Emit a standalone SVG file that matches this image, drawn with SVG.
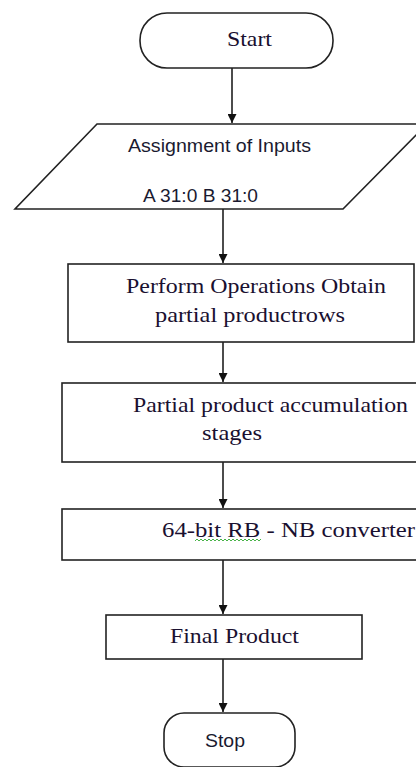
<svg xmlns="http://www.w3.org/2000/svg" width="416" height="767" viewBox="0 0 416 767">
<style>
.shape{fill:#fff;stroke:#222;stroke-width:1.6}
.conn{stroke:#111;stroke-width:1.5;fill:none}
.serif{font-family:"Liberation Serif","Times New Roman",serif;font-size:22px;fill:#1a1030}
.sans{font-family:"Liberation Sans",Arial,sans-serif;font-size:19px;fill:#1a1a30}
</style>
<defs>
<marker id="arr" viewBox="0 0 10 10" refX="10" refY="5" markerWidth="9" markerHeight="9" markerUnits="userSpaceOnUse" orient="auto">
<path d="M0,0 L10,5 L0,10 z" fill="#111"/>
</marker>
</defs>
<rect width="416" height="767" fill="#fff"/>
<g id="connectors">
<line class="conn" x1="232" y1="68" x2="232" y2="123" marker-end="url(#arr)"/>
<line class="conn" x1="223" y1="209" x2="223" y2="263" marker-end="url(#arr)"/>
<line class="conn" x1="223" y1="342" x2="223" y2="382" marker-end="url(#arr)"/>
<line class="conn" x1="223" y1="462" x2="223" y2="508" marker-end="url(#arr)"/>
<line class="conn" x1="223" y1="560" x2="223" y2="614" marker-end="url(#arr)"/>
<line class="conn" x1="223" y1="659" x2="223" y2="712" marker-end="url(#arr)"/>
</g>
<g id="start">
<rect class="shape" x="140" y="13" width="193" height="55" rx="27" ry="27"/>
<text class="serif" x="227" y="46" textLength="45" lengthAdjust="spacingAndGlyphs">Start</text>
</g>
<g id="inputs">
<polygon class="shape" points="97,124 427,124 343,209 15,209"/>
<text class="sans" x="128" y="152" textLength="183" lengthAdjust="spacingAndGlyphs">Assignment of Inputs</text>
<text class="sans" x="143" y="202" textLength="115" lengthAdjust="spacingAndGlyphs">A 31:0 B 31:0</text>
</g>
<g id="operations">
<rect class="shape" x="68" y="264" width="346" height="78"/>
<text class="serif" x="126" y="293" textLength="260" lengthAdjust="spacingAndGlyphs">Perform Operations Obtain</text>
<text class="serif" x="155" y="322" textLength="190" lengthAdjust="spacingAndGlyphs">partial productrows</text>
</g>
<g id="accumulation">
<rect class="shape" x="62" y="383" width="370" height="79"/>
<text class="serif" x="133" y="412" textLength="275" lengthAdjust="spacingAndGlyphs">Partial product accumulation</text>
<text class="serif" x="202" y="440" textLength="60" lengthAdjust="spacingAndGlyphs">stages</text>
</g>
<g id="converter">
<rect class="shape" x="62" y="509" width="370" height="51"/>
<text class="serif" x="162" y="537" textLength="253" lengthAdjust="spacingAndGlyphs">64-bit RB - NB converter</text>
<path d="M195,541 l2,-2 l2,2 l2,-2 l2,2 l2,-2 l2,2 l2,-2 l2,2 l2,-2 l2,2 l2,-2 l2,2 l2,-2 l2,2 l2,-2 l2,2 l2,-2 l2,2 l2,-2 l2,2 l2,-2 l2,2 l2,-2 l2,2 l2,-2 l2,2 l2,-2 l2,2 l2,-2 l2,2 l2,-2 l2,2 l2,-2" fill="none" stroke="#3a3" stroke-width="0.9"/>
</g>
<g id="final">
<rect class="shape" x="106" y="615" width="256" height="44"/>
<text class="serif" x="170" y="643" textLength="129" lengthAdjust="spacingAndGlyphs">Final Product</text>
</g>
<g id="stop">
<rect class="shape" x="164" y="713" width="131" height="54" rx="20" ry="20"/>
<text class="sans" x="205" y="747" textLength="40" lengthAdjust="spacingAndGlyphs">Stop</text>
</g>
</svg>
